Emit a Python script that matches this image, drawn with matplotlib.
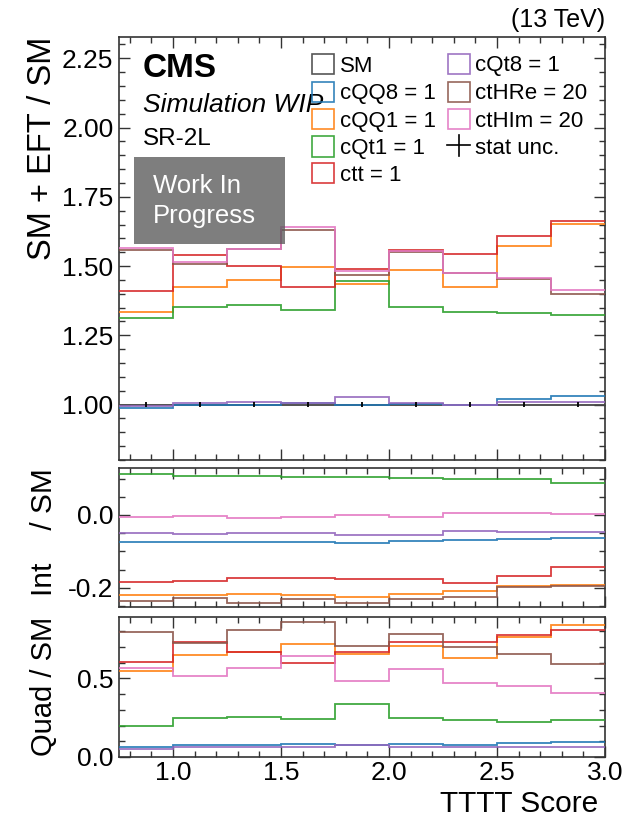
import matplotlib
matplotlib.use("Agg")
import matplotlib.pyplot as plt
from matplotlib.patches import Rectangle
from matplotlib.lines import Line2D
from matplotlib.ticker import MultipleLocator, FormatStrFormatter

plt.rcParams['font.family'] = ['Liberation Sans', 'DejaVu Sans']
plt.rcParams['axes.unicode_minus'] = False

# ---------------- data ----------------
edges = [0.75, 1.0, 1.25, 1.5, 1.75, 2.0, 2.25, 2.5, 2.75, 3.0]
labels = ["cQQ8 = 1", "cQQ1 = 1", "cQt1 = 1", "ctt = 1", "cQt8 = 1", "ctHRe = 20", "ctHIm = 20"]
colors = ["tab:blue", "tab:orange", "tab:green", "tab:red", "tab:purple", "tab:brown", "tab:pink"]

sm_ratio = [1.0, 1.0, 1.0, 1.0, 1.0, 1.0, 1.0, 1.0, 1.0]
sm_unc = [0.008, 0.009, 0.009, 0.009, 0.009, 0.009, 0.009, 0.010, 0.010]

# (SM + EFT) / SM
r_cQQ8 = [0.988, 1.000, 1.000, 1.005, 0.998, 1.003, 1.000, 1.019, 1.031]
r_cQQ1 = [1.333, 1.424, 1.448, 1.496, 1.435, 1.487, 1.424, 1.571, 1.652]
r_cQt1 = [1.313, 1.354, 1.360, 1.343, 1.445, 1.352, 1.336, 1.330, 1.324]
r_ctt = [1.411, 1.540, 1.499, 1.426, 1.490, 1.559, 1.544, 1.610, 1.662]
r_cQt8 = [0.996, 1.005, 1.011, 1.005, 1.029, 1.005, 1.000, 1.009, 1.009]
r_ctHRe = [1.559, 1.508, 1.560, 1.630, 1.468, 1.551, 1.474, 1.452, 1.400]
r_ctHIm = [1.566, 1.514, 1.563, 1.640, 1.481, 1.556, 1.475, 1.457, 1.415]

# Int / SM
i_cQQ8 = [-0.074, -0.074, -0.074, -0.074, -0.076, -0.072, -0.069, -0.066, -0.064]
i_cQQ1 = [-0.220, -0.220, -0.216, -0.221, -0.225, -0.216, -0.209, -0.196, -0.193]
i_cQt1 = [0.113, 0.107, 0.107, 0.104, 0.104, 0.102, 0.100, 0.098, 0.088]
i_ctt = [-0.185, -0.181, -0.172, -0.172, -0.175, -0.177, -0.186, -0.168, -0.144]
i_cQt8 = [-0.049, -0.052, -0.050, -0.050, -0.054, -0.054, -0.045, -0.046, -0.048]
i_ctHRe = [-0.236, -0.227, -0.241, -0.230, -0.241, -0.232, -0.225, -0.197, -0.194]
i_ctHIm = [-0.005, -0.002, -0.009, -0.006, -0.001, -0.005, 0.005, 0.005, 0.002]

# Quad / SM
q_cQQ8 = [0.066, 0.076, 0.076, 0.081, 0.076, 0.081, 0.076, 0.091, 0.098]
q_cQQ1 = [0.548, 0.650, 0.667, 0.718, 0.656, 0.707, 0.628, 0.766, 0.841]
q_cQt1 = [0.197, 0.246, 0.253, 0.240, 0.335, 0.251, 0.236, 0.225, 0.236]
q_ctt = [0.601, 0.730, 0.667, 0.597, 0.665, 0.730, 0.730, 0.773, 0.805]
q_cQt8 = [0.049, 0.066, 0.066, 0.066, 0.076, 0.066, 0.066, 0.062, 0.062]
q_ctHRe = [0.794, 0.724, 0.809, 0.858, 0.707, 0.783, 0.699, 0.656, 0.590]
q_ctHIm = [0.565, 0.516, 0.565, 0.645, 0.480, 0.558, 0.473, 0.452, 0.410]

ratios = [r_cQQ8, r_cQQ1, r_cQt1, r_ctt, r_cQt8, r_ctHRe, r_ctHIm]
ints = [i_cQQ8, i_cQQ1, i_cQt1, i_ctt, i_cQt8, i_ctHRe, i_ctHIm]
quads = [q_cQQ8, q_cQQ1, q_cQt1, q_ctt, q_cQt8, q_ctHRe, q_ctHIm]

# ---------------- figure ----------------
W, H = 629, 819
fig = plt.figure(figsize=(W / 100, H / 100), dpi=100)
L, R = 119, 605


def axes_px(top, bottom):
    return fig.add_axes([L / W, 1 - bottom / H, (R - L) / W, (bottom - top) / H])


ax1 = axes_px(37, 460)
ax2 = axes_px(468, 607)
ax3 = axes_px(617, 757)

LW = 1.3
for ax, series in ((ax1, ratios), (ax2, ints), (ax3, quads)):
    if ax is ax1:
        ax.stairs(sm_ratio, edges, baseline=None, color="#444444", lw=LW, zorder=3)
    for vals, c in zip(series, colors):
        ax.stairs(vals, edges, baseline=None, color=c, lw=LW, alpha=0.9, zorder=3)

centers = [(edges[k] + edges[k + 1]) / 2 for k in range(len(edges) - 1)]
ax1.errorbar(centers, sm_ratio, yerr=sm_unc, fmt="none", ecolor="black", elinewidth=1.3, zorder=4)

for ax in (ax1, ax2, ax3):
    ax.set_xlim(0.75, 3.0)
    ax.xaxis.set_major_locator(MultipleLocator(0.5))
    ax.xaxis.set_minor_locator(MultipleLocator(0.1))
    ax.tick_params(which="both", direction="in", top=True, right=True, labelsize=19, width=1.0, color="#333333")
    ax.tick_params(which="major", length=8)
    ax.tick_params(which="minor", length=4)
    ax.tick_params(axis="y", pad=4)
    ax.tick_params(axis="x", pad=3)
    for s in ax.spines.values():
        s.set_linewidth(1.2)
        s.set_color("#333333")

ax1.set_ylim(0.8, 2.327)
ax1.yaxis.set_major_locator(MultipleLocator(0.25))
ax1.yaxis.set_minor_locator(MultipleLocator(0.05))
ax1.yaxis.set_major_formatter(FormatStrFormatter("%.2f"))
ax1.tick_params(axis="x", labelbottom=False)

ax2.set_ylim(-0.253, 0.129)
ax2.yaxis.set_major_locator(MultipleLocator(0.2))
ax2.yaxis.set_minor_locator(MultipleLocator(0.05))
ax2.yaxis.set_major_formatter(FormatStrFormatter("%.1f"))
ax2.tick_params(axis="x", labelbottom=False)

ax3.set_ylim(0.0, 0.89)
ax3.yaxis.set_major_locator(MultipleLocator(0.5))
ax3.yaxis.set_minor_locator(MultipleLocator(0.1))
ax3.yaxis.set_major_formatter(FormatStrFormatter("%.1f"))

# axis labels
ax1.set_ylabel("SM + EFT / SM", fontsize=23.5, loc="top")
ax1.yaxis.set_label_coords(-0.125, 1.0)
ax2.set_ylabel("Int    / SM", fontsize=21.5, loc="top")
ax2.yaxis.set_label_coords(-0.125, 1.0)
ax3.set_ylabel("Quad / SM", fontsize=21, loc="top")
ax3.yaxis.set_label_coords(-0.125, 1.0)
ax3.set_xlabel("TTTT Score", fontsize=21.5, loc="right", va="baseline")
ax3.xaxis.set_label_coords((598 - L) / (R - L), -(812 - 757) / 140)

# texts in top panel
def ay(py):
    return 1 - (py - 37) / 423


def axx(px):
    return (px - L) / (R - L)


ax1.text(1.0, 1.0 + 10 / 423, "(13 TeV)", transform=ax1.transAxes, ha="right", va="baseline", fontsize=18)
ax1.text(axx(143), ay(77), "CMS", transform=ax1.transAxes, ha="left", va="baseline", fontsize=24, fontweight="bold")
ax1.text(axx(143), ay(111.5), "Simulation WIP", transform=ax1.transAxes, ha="left", va="baseline", fontsize=19, style="italic")
ax1.text(axx(143), ay(145), "SR-2L", transform=ax1.transAxes, ha="left", va="baseline", fontsize=17.5)

ax1.add_patch(Rectangle((axx(134), ay(244)), axx(285) - axx(134), ay(156.7) - ay(244),
                        transform=ax1.transAxes, facecolor="#5a5a5a", alpha=0.78, edgecolor="none", zorder=5))
ax1.text(axx(153), ay(193), "Work In", transform=ax1.transAxes, ha="left", va="baseline", fontsize=18.5, color="white", zorder=6)
ax1.text(axx(153), ay(223.5), "Progress", transform=ax1.transAxes, ha="left", va="baseline", fontsize=18.5, color="white", zorder=6)

# legend (drawn manually in pixel positions)
def fx(px):
    return px / W


def fy(py):
    return 1 - py / H


rows = [64, 91.7, 119.3, 146.5, 173.3]
col1 = [("SM", "#444444")] + list(zip(labels[:4], colors[:4]))
col2 = list(zip(labels[4:], colors[4:]))
for (lab, c), yc in zip(col1, rows):
    fig.patches.append(Rectangle((fx(312), fy(yc + 10)), fx(334) - fx(312), fy(yc - 10) - fy(yc + 10),
                                 transform=fig.transFigure, facecolor="none", edgecolor=c, lw=1.2, alpha=0.9))
    fig.text(fx(340), fy(yc + 7.5), lab, ha="left", va="baseline", fontsize=16)
for (lab, c), yc in zip(col2, rows):
    fig.patches.append(Rectangle((fx(447.5), fy(yc + 10)), fx(470) - fx(447.5), fy(yc - 10) - fy(yc + 10),
                                 transform=fig.transFigure, facecolor="none", edgecolor=c, lw=1.2, alpha=0.9))
    fig.text(fx(475), fy(yc + 7.5), lab, ha="left", va="baseline", fontsize=16)
yc = rows[3]
fig.lines.append(Line2D([fx(447), fx(470)], [fy(yc - 2), fy(yc - 2)], transform=fig.transFigure, color="black", lw=1.2))
fig.lines.append(Line2D([fx(458.5), fx(458.5)], [fy(yc - 12), fy(yc + 9)], transform=fig.transFigure, color="black", lw=1.2))
fig.text(fx(475), fy(yc + 7.5), "stat unc.", ha="left", va="baseline", fontsize=16)

fig.savefig("out.png", dpi=100)
